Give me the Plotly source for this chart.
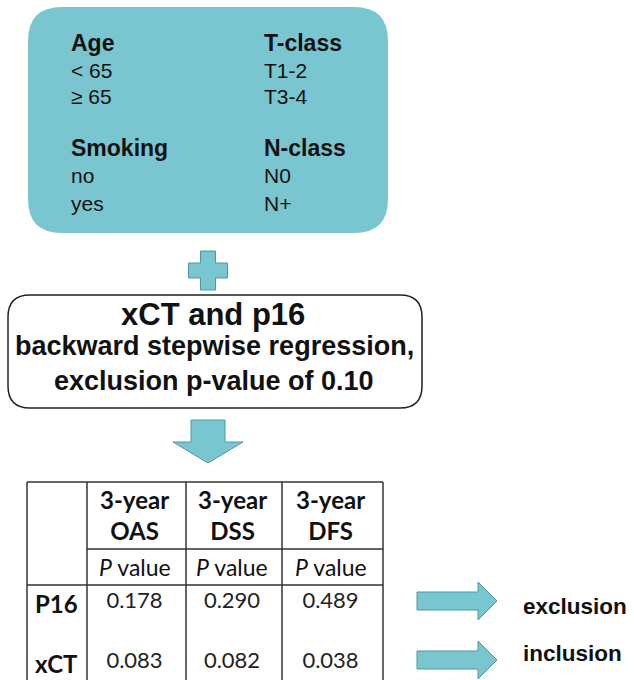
import plotly.graph_objects as go

# ---------------- data ----------------
left_headers = ["Age", "Smoking"]
left_values = [["< 65", "≥ 65"], ["no", "yes"]]
right_headers = ["T-class", "N-class"]
right_values = [["T1-2", "T3-4"], ["N0", "N+"]]

model_title = "xCT and p16"
model_lines = ["backward stepwise regression,", "exclusion p-value of 0.10"]

col_headers = ["3-year<br>OAS", "3-year<br>DSS", "3-year<br>DFS"]
sub_header = "<i>P</i> value"
row_labels = ["P16", "xCT"]
p16_values = ["0.178", "0.290", "0.489"]
xct_values = ["0.083", "0.082", "0.038"]
decisions = ["exclusion", "inclusion"]

# ---------------- style ----------------
W, H = 634, 680
TEAL = "#79C6D0"
EDGE = "#4F98A3"
ARIAL = "Liberation Sans, Arial, sans-serif"
CALIBRI = "Lato, Calibri, sans-serif"
INK = "#111111"


def rrect(x0, y0, x1, y1, r):
    return (f"M {x0+r},{y0} L {x1-r},{y0} Q {x1},{y0} {x1},{y0+r} "
            f"L {x1},{y1-r} Q {x1},{y1} {x1-r},{y1} L {x0+r},{y1} "
            f"Q {x0},{y1} {x0},{y1-r} L {x0},{y0+r} Q {x0},{y0} {x0+r},{y0} Z")


def poly(pts):
    return "M " + " L ".join(f"{x},{y}" for x, y in pts) + " Z"


shapes = []
annots = []

# top box
shapes.append(dict(type="path", path=rrect(28, 7, 388, 233, 34),
                   fillcolor=TEAL, line=dict(width=0), layer="below"))
row_y = [[43, 70, 96], [148, 175.5, 203]]
for col_x, headers, values in [(69, left_headers, left_values),
                               (262, right_headers, right_values)]:
    for i, hdr in enumerate(headers):
        annots.append(dict(x=col_x, y=row_y[i][0], text=f"<b>{hdr}</b>",
                           xanchor="left", yanchor="middle",
                           font=dict(family=ARIAL, size=23, color=INK)))
        for j, v in enumerate(values[i]):
            annots.append(dict(x=col_x, y=row_y[i][j + 1], text=v,
                               xanchor="left", yanchor="middle",
                               font=dict(family=ARIAL, size=21, color=INK)))

# plus sign
cx, cy, a, t = 208, 270.5, 19.5, 7.5
shapes.append(dict(type="path", path=poly([
    (cx - t, cy - a), (cx + t, cy - a), (cx + t, cy - t), (cx + a, cy - t),
    (cx + a, cy + t), (cx + t, cy + t), (cx + t, cy + a), (cx - t, cy + a),
    (cx - t, cy + t), (cx - a, cy + t), (cx - a, cy - t), (cx - t, cy - t)]),
    fillcolor=TEAL, line=dict(color=EDGE, width=1)))

# middle box
shapes.append(dict(type="path", path=rrect(8, 295, 422, 408, 22),
                   fillcolor="white", line=dict(color="#222222", width=1.5)))
annots.append(dict(x=213, y=314, text=f"<b>{model_title}</b>",
                   xanchor="center", yanchor="middle",
                   font=dict(family=ARIAL, size=31, color=INK)))
for k, line in enumerate(model_lines):
    annots.append(dict(x=214, y=[346, 381][k], text=f"<b>{line}</b>",
                       xanchor="center", yanchor="middle",
                       font=dict(family=ARIAL, size=27, color=INK)))

# down arrow
shapes.append(dict(type="path", path=poly([
    (191, 420), (225, 420), (225, 442), (243, 442), (208, 463),
    (173, 442), (191, 442)]),
    fillcolor=TEAL, line=dict(color=EDGE, width=1)))

# table grid
col_lines = [27, 87, 186, 282, 383]
for x in col_lines:
    shapes.append(dict(type="line", x0=x, x1=x, y0=482, y1=690,
                       line=dict(color="#333333", width=1.5)))
shapes.append(dict(type="line", x0=27, x1=383, y0=482, y1=482,
                   line=dict(color="#333333", width=1.5)))
shapes.append(dict(type="line", x0=87, x1=383, y0=549, y1=549,
                   line=dict(color="#333333", width=1.5)))
shapes.append(dict(type="line", x0=27, x1=383, y0=585, y1=585,
                   line=dict(color="#333333", width=1.5)))

col_cx = [(col_lines[i + 1] + col_lines[i + 2]) / 2 - 2 for i in range(3)]
for i, hdr in enumerate(col_headers):
    annots.append(dict(x=col_cx[i], y=515, text=f"<b>{hdr}</b>",
                       xanchor="center", yanchor="middle",
                       font=dict(family=CALIBRI, size=24, color=INK)))
    annots.append(dict(x=col_cx[i], y=567, text=sub_header,
                       xanchor="center", yanchor="middle",
                       font=dict(family=CALIBRI, size=23, color=INK)))
row_y_tab = [603, 663]
for r, lab in enumerate(row_labels):
    annots.append(dict(x=33, y=row_y_tab[r], text=f"<b>{lab}</b>",
                       xanchor="left", yanchor="middle",
                       font=dict(family=CALIBRI, size=24, color=INK)))

fig = go.Figure()
for r, vals in enumerate([p16_values, xct_values]):
    fig.add_trace(go.Scatter(
        x=col_cx, y=[row_y_tab[r] - 1] * 3, text=vals, mode="text",
        textposition="middle center", hoverinfo="skip", showlegend=False,
        textfont=dict(family=CALIBRI, size=22, color="#222222")))

# right arrows + labels
arrow_tip_y = [601, 660]
label_y = [606, 653]
for k, dec in enumerate(decisions):
    ty = arrow_tip_y[k]
    shapes.append(dict(type="path", path=poly([
        (417, ty - 9), (478, ty - 9), (478, ty - 19), (497, ty),
        (478, ty + 19), (478, ty + 9), (417, ty + 9)]),
        fillcolor=TEAL, line=dict(color=EDGE, width=1)))
    annots.append(dict(x=521, y=label_y[k], text=f"<b>{dec}</b>",
                       xanchor="left", yanchor="middle",
                       font=dict(family=ARIAL, size=22.5, color=INK)))

for a_ in annots:
    a_.update(xref="x", yref="y", showarrow=False)

fig.update_layout(
    width=W, height=H, margin=dict(l=0, r=0, t=0, b=0),
    paper_bgcolor="white", plot_bgcolor="white",
    xaxis=dict(range=[0, W], visible=False, fixedrange=True),
    yaxis=dict(range=[H, 0], visible=False, fixedrange=True),
    shapes=shapes, annotations=annots,
)
fig.write_html("out.html", config={"displayModeBar": False},
               post_script="document.body.style.margin='0';"
                           "document.body.style.overflow='hidden';")
